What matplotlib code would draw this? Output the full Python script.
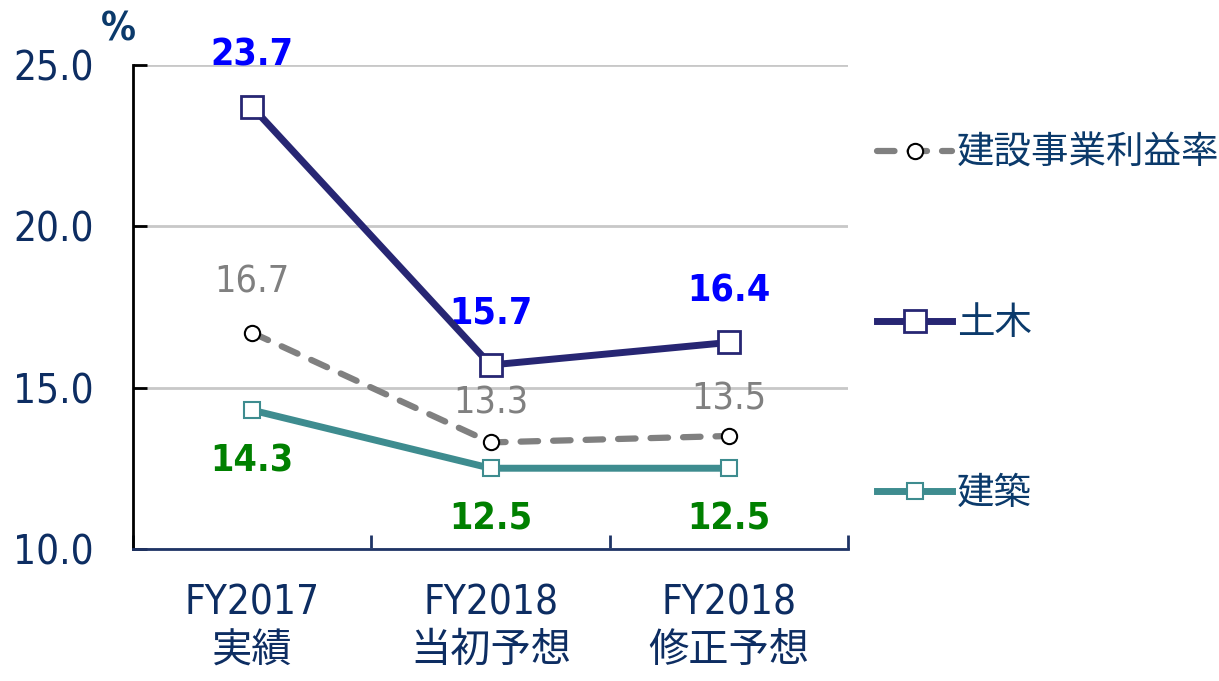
import matplotlib
matplotlib.use('Agg')
import matplotlib.pyplot as plt

# データ
categories = ['FY2017\n実績', 'FY2018\n当初予想', 'FY2018\n修正予想']
total_rate = [16.7, 13.3, 13.5]     # 建設事業利益率
civil = [23.7, 15.7, 16.4]          # 土木
building = [14.3, 12.5, 12.5]       # 建築
series_names = ['建設事業利益率', '土木', '建築']
yticks = [10.0, 15.0, 20.0, 25.0]

NUM_FONT = ['DejaVu Sans', 'Noto Sans CJK JP']
JP_FONT = ['Noto Sans CJK JP', 'DejaVu Sans']
TXT = '#0d2d62'

plt.rcParams['font.family'] = NUM_FONT
plt.rcParams['font.stretch'] = 'condensed'

fig = plt.figure(figsize=(12.19, 6.81), dpi=100)
ax = fig.add_axes([0.109, 0.194, 0.587, 0.7106])

x = list(range(len(categories)))

l1, = ax.plot(x, total_rate, color='#808080', lw=4.5, ls=(0, (2.8, 2.4)),
              dash_capstyle='round', marker='o', ms=11, mfc='white', mec='black',
              mew=1.5, zorder=3)
l2, = ax.plot(x, civil, color='#272673', lw=5, marker='s', ms=16, mfc='white',
              mec='#272673', mew=2, zorder=4)
l3, = ax.plot(x, building, color='#3e8c8f', lw=5, marker='s', ms=11, mfc='white',
              mec='#3e8c8f', mew=1.5, zorder=3)

# データラベル
for i, v in enumerate(civil):
    ax.annotate('%.1f' % v, (i, v), xytext=(0, 37), textcoords='offset points',
                ha='center', va='center', fontsize=27, fontweight='bold', color='#0000ff',
                fontstretch='condensed')
tot_off = [36, 28, 26]
for i, v in enumerate(total_rate):
    ax.annotate('%.1f' % v, (i, v), xytext=(0, tot_off[i]), textcoords='offset points',
                ha='center', va='center', fontsize=27, color='#808080',
                fontstretch='condensed')
for i, v in enumerate(building):
    ax.annotate('%.1f' % v, (i, v), xytext=(0, -37), textcoords='offset points',
                ha='center', va='center', fontsize=27, fontweight='bold', color='#008000',
                fontstretch='condensed')

ax.set_xlim(-0.5, 2.5)
ax.set_ylim(10, 25)
ax.set_yticks(yticks)
ax.set_yticklabels(['%.1f' % t for t in yticks])
ax.set_xticks(x)
ax.set_xticklabels(categories, linespacing=1.25)
ax.set_xticks([-0.5, 0.5, 1.5, 2.5], minor=True)
ax.tick_params(axis='x', which='major', length=0, pad=25, labelsize=29, labelcolor=TXT)
ax.tick_params(axis='x', which='minor', direction='in', length=10, width=2, color='#1f3466')
ax.tick_params(axis='y', direction='in', length=10, width=2, pad=28, labelsize=29,
               labelcolor=TXT)

ax.grid(axis='y', color='#c8c8c8', lw=2)
ax.set_axisbelow(True)
for s in ['top', 'right']:
    ax.spines[s].set_visible(False)
ax.spines['left'].set_color('black')
ax.spines['left'].set_linewidth(2)
ax.spines['bottom'].set_color('#1f3466')
ax.spines['bottom'].set_linewidth(2)

ax.text(-0.56, 26.1, '%', ha='center', va='center', fontsize=28, fontweight='bold',
        color='#0b3a6b', clip_on=False)

leg = fig.legend([l1, l2, l3], series_names, loc='center left',
                 bbox_to_anchor=(0.692, 0.525), frameon=False, labelspacing=3.5,
                 handlelength=2.0, handletextpad=0.12,
                 prop={'family': JP_FONT, 'size': 27})
for t in leg.get_texts():
    t.set_color('#0b3a6b')

fig.savefig('out.png', dpi=100)
